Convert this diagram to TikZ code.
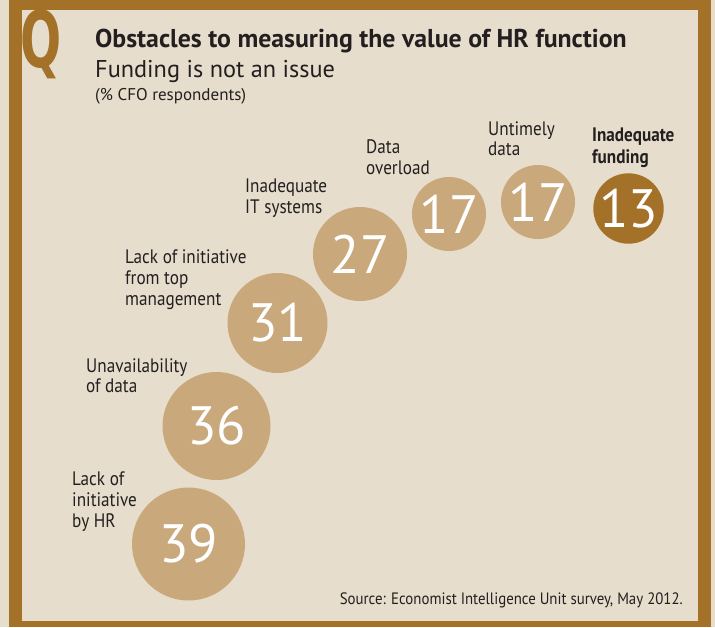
\documentclass[tikz,border=0pt]{standalone}
\usepackage{fontspec}
\setmainfont{PT Sans}
\newfontfamily\narrowfont[FakeStretch=0.88]{PT Sans}
\newfontfamily\srcfont[FakeStretch=0.9]{PT Sans}
\newfontfamily\qfont[FakeStretch=0.62]{DejaVu Sans}
\definecolor{bgbeige}{HTML}{E7DDCC}
\definecolor{frbrown}{HTML}{A37127}
\definecolor{circtan}{HTML}{C9A97B}
\definecolor{txtdark}{HTML}{231F20}
\tikzset{
  bubble/.style={circle, fill=circtan, draw=none, inner sep=0pt, text=white,
    font=\fontsize{54}{54}\selectfont},
  lbl/.style={anchor=base west, align=left, inner sep=0pt, text=txtdark,
    font=\narrowfont\fontsize{19.5}{21}\selectfont},
}
\begin{document}
\begin{tikzpicture}[x=1pt,y=-1pt]
\useasboundingbox (0,0) rectangle (715,627);
\fill[bgbeige] (0,0) rectangle (715,627);
\fill[frbrown] (9,0) rectangle (711,627);
\fill[bgbeige] (22,10) rectangle (698,621);
% Q
\node[anchor=base west, inner sep=0pt, text=frbrown,
  font=\qfont\bfseries\fontsize{78}{78}\selectfont] (q) at (20,67) {Q};
% titles
\node[anchor=base west, inner sep=0pt, text=txtdark,
  font=\fontsize{25.8}{28}\selectfont\bfseries] (title) at (95,47)
  {Obstacles to measuring the value of HR function};
\node[anchor=base west, inner sep=0pt, text=txtdark,
  font=\fontsize{24.3}{26}\selectfont] (sub) at (95,77)
  {Funding is not an issue};
\node[anchor=base west, inner sep=0pt, text=txtdark,
  font=\fontsize{17}{18}\selectfont] (unit) at (95,100)
  {(\% CFO respondents)};
% bubbles
\node[bubble, minimum size=113pt] (c39) at (188.5,544) {39};
\node[bubble, minimum size=108pt] (c36) at (216.5,426) {36};
\node[bubble, minimum size=100pt] (c31) at (277.5,323) {31};
\node[bubble, minimum size=94pt]  (c27) at (360,254) {27};
\node[bubble, minimum size=74pt]  (c17a) at (449,214) {17};
\node[bubble, minimum size=74pt]  (c17b) at (538,202) {17};
\node[bubble, minimum size=65pt, fill=frbrown] (c13) at (628.5,208.5) {13};
% labels (anchor at baseline of last line)
\node[lbl] (l39) at (72,527) {Lack of\\initiative\\by HR};
\node[lbl, font=\narrowfont\fontsize{19.5}{20}\selectfont] (l36) at (86,392) {Unavailability\\of data};
\node[lbl] (l31) at (125,305) {Lack of initiative\\from top\\management};
\node[lbl] (l27) at (245,213) {Inadequate\\IT systems};
\node[lbl] (l17a) at (366,174) {Data\\overload};
\node[lbl, font=\narrowfont\fontsize{19.5}{20}\selectfont] (l17b) at (488,155) {Untimely\\data};
\node[lbl, font=\narrowfont\fontsize{19.5}{22}\selectfont\bfseries] (l13) at (592,163) {Inadequate\\funding};
% source
\node[anchor=base east, inner sep=0pt, text=txtdark,
  font=\srcfont\fontsize{16.5}{18}\selectfont] (src) at (683,604)
  {Source: Economist Intelligence Unit survey, May 2012.};
\end{tikzpicture}
\end{document}
